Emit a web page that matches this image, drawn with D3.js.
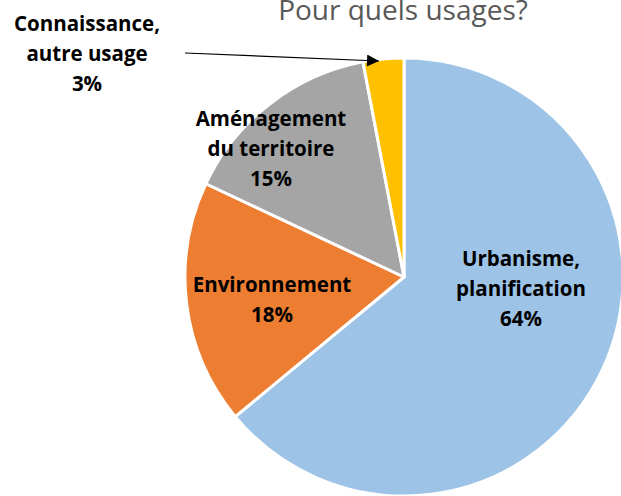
<!DOCTYPE html>
<html>
<head>
<meta charset="utf-8">
<script src="https://cdn.jsdelivr.net/npm/d3@7"></script>
<style>
  html, body { margin: 0; padding: 0; background: #fff; overflow: hidden; }
  svg { display: block; }
</style>
</head>
<body>
<svg id="chart" width="621" height="496"></svg>
<script>
// Répartition des usages
const categories = ["Urbanisme, planification", "Environnement", "Aménagement du territoire", "Connaissance, autre usage"];
const labelLines = [["Urbanisme,", "planification"], ["Environnement"], ["Aménagement", "du territoire"], ["Connaissance,", "autre usage"]];
const values = [64, 18, 15, 3];
const colors = ["#9DC3E6", "#ED7D31", "#A5A5A5", "#FFC000"];
const title = "Pour quels usages?";

const svg = d3.select("#chart");
const cx = 404, cy = 277, radius = 219;

const pie = d3.pie().sort(null).value(d => d.value);
const arc = d3.arc().innerRadius(0).outerRadius(radius);
const data = categories.map((c, i) => ({ name: c, value: values[i], lines: labelLines[i], color: colors[i] }));
const arcs = pie(data);

const g = svg.append("g").attr("transform", `translate(${cx},${cy})`);
g.selectAll("path").data(arcs).join("path")
  .attr("d", arc)
  .attr("fill", d => d.data.color)
  .attr("stroke", "#fff")
  .attr("stroke-width", 3)
  .attr("stroke-linejoin", "round");

const font = "'Open Sans', Lato, sans-serif";

// Title
svg.append("text")
  .attr("x", 403).attr("y", 20)
  .attr("text-anchor", "middle")
  .attr("font-family", font)
  .attr("font-size", 28)
  .attr("fill", "#595959")
  .text(title);

// Label anchors: centre x and baseline of the first line
const labelPos = [[521, 266], [272, 291.5], [271, 125.5], [87, 30.5]];
const lineH = 30;

arcs.forEach((a, i) => {
  const lines = a.data.lines.concat([a.data.value + "%"]);
  const [lx, ly] = labelPos[i];
  const t = svg.append("text")
    .attr("text-anchor", "middle")
    .attr("font-family", font)
    .attr("font-weight", "bold")
    .attr("font-size", 20.5)
    .attr("fill", "#000");
  lines.forEach((ln, j) => {
    t.append("tspan").attr("x", lx).attr("y", ly + j * lineH).text(ln);
  });
});

// Leader line pointing at the smallest slice
svg.append("defs").append("marker")
  .attr("id", "arrow").attr("viewBox", "0 0 10 10")
  .attr("refX", 10).attr("refY", 5)
  .attr("markerWidth", 13).attr("markerHeight", 12)
  .attr("markerUnits", "userSpaceOnUse")
  .attr("orient", "auto")
  .append("path").attr("d", "M0,0 L10,5 L0,10 Z").attr("fill", "#000");
svg.append("line")
  .attr("x1", 185).attr("y1", 53)
  .attr("x2", 379).attr("y2", 61)
  .attr("stroke", "#000").attr("stroke-width", 1.2)
  .attr("marker-end", "url(#arrow)");
</script>
</body>
</html>
